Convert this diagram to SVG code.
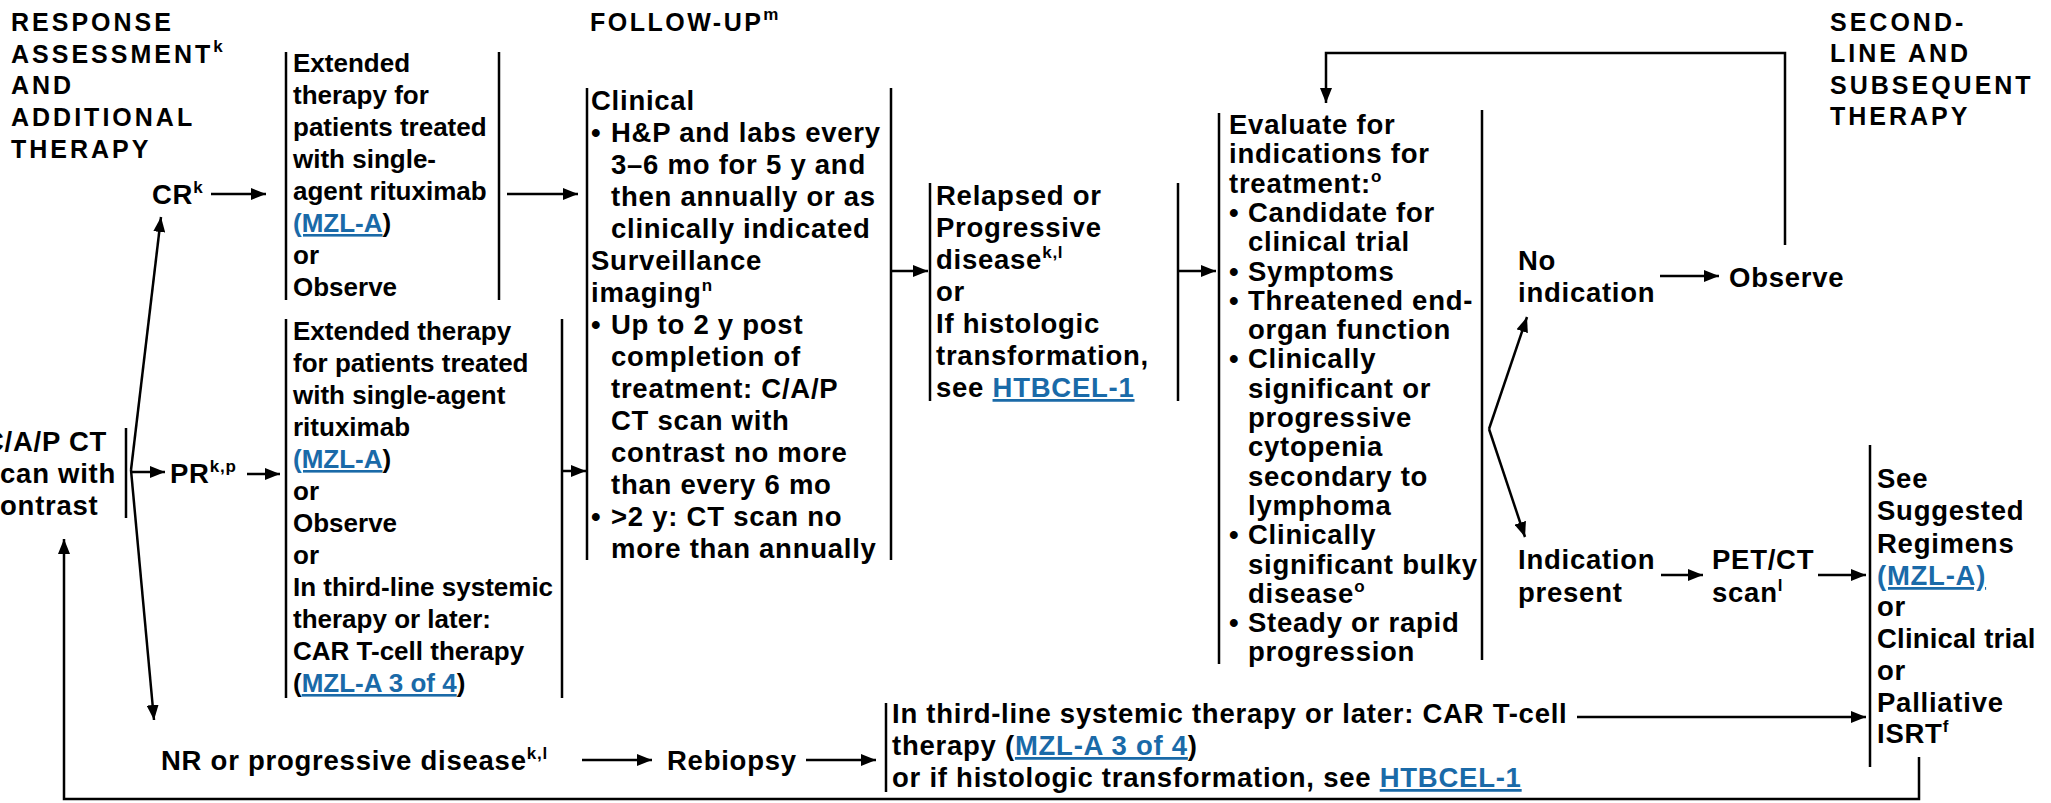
<svg xmlns="http://www.w3.org/2000/svg" width="2051" height="803" viewBox="0 0 2051 803">
<defs>
<marker id="ah" markerUnits="userSpaceOnUse" markerWidth="16" markerHeight="12" refX="15" refY="6" orient="auto">
<path d="M0,0 L15,6 L0,12 z" fill="#000"/>
</marker>
<style>
.t{font-family:"Liberation Sans",Arial,Helvetica,sans-serif;font-weight:bold;font-size:26px;fill:#000}
.w{font-size:27.5px;letter-spacing:0.75px}
.h{font-size:25px;letter-spacing:3px}
.f{font-size:25px;letter-spacing:2.5px}
.s{font-size:17px}
.lk{fill:#1a6aa8;text-decoration:underline}
.ln{stroke:#000;stroke-width:2.5;fill:none}
.ar{stroke:#000;stroke-width:2.5;fill:none;marker-end:url(#ah)}
</style>
</defs>
<rect width="2051" height="803" fill="#fff"/>

<g id="header-response">
<text class="t h" x="11" y="31">RESPONSE</text>
<text class="t h" x="11" y="63">ASSESSMENT<tspan class="s" dy="-11">k</tspan></text>
<text class="t h" x="11" y="94">AND</text>
<text class="t h" x="11" y="126">ADDITIONAL</text>
<text class="t h" x="11" y="158">THERAPY</text>
</g>
<g id="header-followup">
<text class="t f" x="590" y="31">FOLLOW-UP<tspan class="s" dy="-11">m</tspan></text>
</g>
<g id="header-second">
<text class="t h" x="1830" y="31">SECOND-</text>
<text class="t h" x="1830" y="62">LINE AND</text>
<text class="t h" x="1830" y="94">SUBSEQUENT</text>
<text class="t h" x="1830" y="125">THERAPY</text>
</g>

<g id="node-cap-ct">
<text class="t w" x="-16" y="451">C/A/P CT</text>
<text class="t w" x="-16" y="483">scan with</text>
<text class="t w" x="-16" y="515">contrast</text>
<line class="ln" x1="126" y1="428" x2="126" y2="518"/>
</g>

<g id="node-cr">
<text class="t w" x="152" y="204">CR<tspan class="s" dy="-11">k</tspan></text>
</g>
<g id="node-pr">
<text class="t w" x="170" y="483">PR<tspan class="s" dy="-11">k,p</tspan></text>
</g>
<g id="node-nr">
<text class="t w" x="161" y="770">NR or progressive disease<tspan class="s" dy="-11">k,l</tspan></text>
</g>

<g id="node-cr-therapy">
<line class="ln" x1="286" y1="52" x2="286" y2="300"/>
<line class="ln" x1="499" y1="52" x2="499" y2="300"/>
<text class="t" x="293" y="72">Extended</text>
<text class="t" x="293" y="104">therapy for</text>
<text class="t" x="293" y="136">patients treated</text>
<text class="t" x="293" y="168">with single-</text>
<text class="t" x="293" y="200">agent rituximab</text>
<text class="t" x="293" y="232"><tspan class="lk">(MZL-A</tspan>)</text>
<text class="t" x="293" y="264">or</text>
<text class="t" x="293" y="296">Observe</text>
</g>

<g id="node-pr-therapy">
<line class="ln" x1="286" y1="319" x2="286" y2="698"/>
<line class="ln" x1="562" y1="319" x2="562" y2="698"/>
<text class="t" x="293" y="340">Extended therapy</text>
<text class="t" x="293" y="372">for patients treated</text>
<text class="t" x="293" y="404">with single-agent</text>
<text class="t" x="293" y="436">rituximab</text>
<text class="t" x="293" y="468"><tspan class="lk">(MZL-A</tspan>)</text>
<text class="t" x="293" y="500">or</text>
<text class="t" x="293" y="532">Observe</text>
<text class="t" x="293" y="564">or</text>
<text class="t" x="293" y="596">In third-line systemic</text>
<text class="t" x="293" y="628">therapy or later:</text>
<text class="t" x="293" y="660">CAR T-cell therapy</text>
<text class="t" x="293" y="692">(<tspan class="lk">MZL-A 3 of 4</tspan>)</text>
</g>

<g id="node-followup">
<line class="ln" x1="587" y1="88" x2="587" y2="560"/>
<line class="ln" x1="891" y1="88" x2="891" y2="560"/>
<text class="t w" x="591" y="110">Clinical</text>
<text class="t w" y="142"><tspan x="591">•</tspan><tspan x="611">H&amp;P and labs every</tspan></text>
<text class="t w" x="611" y="174">3–6 mo for 5 y and</text>
<text class="t w" x="611" y="206">then annually or as</text>
<text class="t w" x="611" y="238">clinically indicated</text>
<text class="t w" x="591" y="270">Surveillance</text>
<text class="t w" x="591" y="302">imaging<tspan class="s" dy="-11">n</tspan></text>
<text class="t w" y="334"><tspan x="591">•</tspan><tspan x="611">Up to 2 y post</tspan></text>
<text class="t w" x="611" y="366">completion of</text>
<text class="t w" x="611" y="398">treatment: C/A/P</text>
<text class="t w" x="611" y="430">CT scan with</text>
<text class="t w" x="611" y="462">contrast no more</text>
<text class="t w" x="611" y="494">than every 6 mo</text>
<text class="t w" y="526"><tspan x="591">•</tspan><tspan x="611">&gt;2 y: CT scan no</tspan></text>
<text class="t w" x="611" y="558">more than annually</text>
</g>

<g id="node-relapsed">
<line class="ln" x1="930" y1="183" x2="930" y2="401"/>
<line class="ln" x1="1178" y1="183" x2="1178" y2="401"/>
<text class="t w" x="936" y="205">Relapsed or</text>
<text class="t w" x="936" y="237">Progressive</text>
<text class="t w" x="936" y="269">disease<tspan class="s" dy="-11">k,l</tspan></text>
<text class="t w" x="936" y="301">or</text>
<text class="t w" x="936" y="333">If histologic</text>
<text class="t w" x="936" y="365">transformation,</text>
<text class="t w" x="936" y="397">see <tspan class="lk">HTBCEL-1</tspan></text>
</g>

<g id="node-evaluate">
<line class="ln" x1="1219" y1="113" x2="1219" y2="664"/>
<line class="ln" x1="1482" y1="110" x2="1482" y2="660"/>
<text class="t w" x="1229" y="134">Evaluate for</text>
<text class="t w" x="1229" y="163.3">indications for</text>
<text class="t w" x="1229" y="192.6">treatment:<tspan class="s" dy="-11">o</tspan></text>
<text class="t w" y="221.9"><tspan x="1229">•</tspan><tspan x="1248">Candidate for</tspan></text>
<text class="t w" x="1248" y="251.2">clinical trial</text>
<text class="t w" y="280.5"><tspan x="1229">•</tspan><tspan x="1248">Symptoms</tspan></text>
<text class="t w" y="309.8"><tspan x="1229">•</tspan><tspan x="1248">Threatened end-</tspan></text>
<text class="t w" x="1248" y="339.1">organ function</text>
<text class="t w" y="368.4"><tspan x="1229">•</tspan><tspan x="1248">Clinically</tspan></text>
<text class="t w" x="1248" y="397.7">significant or</text>
<text class="t w" x="1248" y="427">progressive</text>
<text class="t w" x="1248" y="456.3">cytopenia</text>
<text class="t w" x="1248" y="485.6">secondary to</text>
<text class="t w" x="1248" y="514.9">lymphoma</text>
<text class="t w" y="544.2"><tspan x="1229">•</tspan><tspan x="1248">Clinically</tspan></text>
<text class="t w" x="1248" y="573.5">significant bulky</text>
<text class="t w" x="1248" y="602.8">disease<tspan class="s" dy="-11">o</tspan></text>
<text class="t w" y="632.1"><tspan x="1229">•</tspan><tspan x="1248">Steady or rapid</tspan></text>
<text class="t w" x="1248" y="661.4">progression</text>
</g>

<g id="node-no-indication">
<text class="t w" x="1518" y="270">No</text>
<text class="t w" x="1518" y="302">indication</text>
</g>
<g id="node-observe">
<text class="t w" x="1729" y="287">Observe</text>
</g>
<g id="node-indication-present">
<text class="t w" x="1518" y="569">Indication</text>
<text class="t w" x="1518" y="602">present</text>
</g>
<g id="node-petct">
<text class="t w" x="1712" y="569">PET/CT</text>
<text class="t w" x="1712" y="602">scan<tspan class="s" dy="-11">l</tspan></text>
</g>

<g id="node-regimens">
<line class="ln" x1="1870" y1="445" x2="1870" y2="767"/>
<text class="t w" x="1877" y="488">See</text>
<text class="t w" x="1877" y="520">Suggested</text>
<text class="t w" x="1877" y="553">Regimens</text>
<text class="t w" x="1877" y="585"><tspan class="lk">(MZL-A)</tspan></text>
<text class="t w" x="1877" y="616">or</text>
<text class="t" x="1877" y="648" style="font-size:27.5px;letter-spacing:0.2px">Clinical trial</text>
<text class="t w" x="1877" y="680">or</text>
<text class="t w" x="1877" y="712">Palliative</text>
<text class="t w" x="1877" y="743">ISRT<tspan class="s" dy="-11">f</tspan></text>
</g>

<g id="node-rebiopsy">
<text class="t w" x="667" y="770">Rebiopsy</text>
</g>

<g id="node-car-t">
<line class="ln" x1="886" y1="703" x2="886" y2="792"/>
<text class="t w" x="892" y="723">In third-line systemic therapy or later: CAR T-cell</text>
<text class="t w" x="892" y="755">therapy (<tspan class="lk">MZL-A 3 of 4</tspan>)</text>
<text class="t w" x="892" y="787">or if histologic transformation, see <tspan class="lk">HTBCEL-1</tspan></text>
</g>

<g id="connectors">
<line class="ar" x1="131" y1="470" x2="161" y2="217"/>
<line class="ar" x1="131" y1="472" x2="165" y2="472"/>
<line class="ar" x1="131" y1="470" x2="154" y2="720"/>
<line class="ar" x1="211" y1="194" x2="266" y2="194"/>
<line class="ar" x1="247" y1="474" x2="280" y2="474"/>
<line class="ar" x1="507" y1="194" x2="578" y2="194"/>
<line class="ar" x1="562" y1="471" x2="586" y2="471"/>
<line class="ar" x1="891" y1="271" x2="928" y2="271"/>
<line class="ar" x1="1178" y1="271" x2="1216" y2="271"/>
<line class="ar" x1="1489" y1="429" x2="1527" y2="317"/>
<line class="ar" x1="1489" y1="429" x2="1525" y2="537"/>
<line class="ar" x1="1660" y1="276" x2="1719" y2="276"/>
<polyline class="ar" points="1785,245 1785,53 1326,53 1326,103"/>
<line class="ar" x1="1661" y1="575" x2="1703" y2="575"/>
<line class="ar" x1="1818" y1="575" x2="1866" y2="575"/>
<line class="ar" x1="582" y1="760" x2="652" y2="760"/>
<line class="ar" x1="806" y1="760" x2="876" y2="760"/>
<line class="ar" x1="1577" y1="717" x2="1866" y2="717"/>
<polyline class="ar" points="1919,757 1919,799 64,799 64,539"/>
</g>
</svg>
